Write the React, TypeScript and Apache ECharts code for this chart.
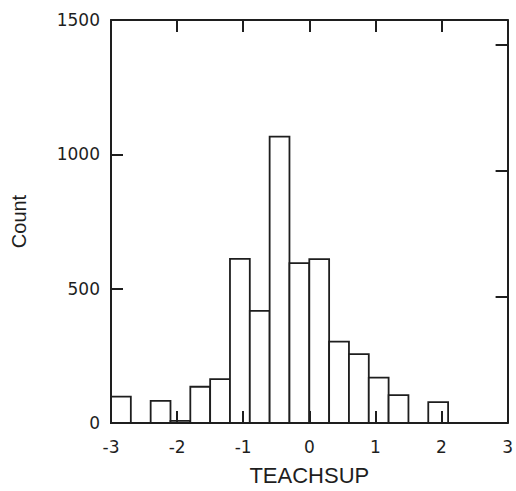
import React, { useEffect, useRef } from "react";
import * as echarts from "echarts";

// Histogram of TEACHSUP (bin width 0.3)
const binStarts = [-3, -2.7, -2.4, -2.1, -1.8, -1.5, -1.2, -0.9, -0.6, -0.3, 0, 0.3, 0.6, 0.9, 1.2, 1.5, 1.8];
const binEnds = [-2.7, -2.4, -2.1, -1.8, -1.5, -1.2, -0.9, -0.6, -0.3, 0, 0.3, 0.6, 0.9, 1.2, 1.5, 1.8, 2.1];
const counts = [98, 0, 82, 8, 135, 163, 611, 417, 1066, 595, 610, 303, 256, 169, 104, 0, 78];
const xTicks = [-3, -2, -1, 0, 1, 2, 3];
const yTicks = [0, 500, 1000, 1500];

const INK = "#1e1e1e";

export default function App() {
  const ref = useRef<HTMLDivElement>(null);
  useEffect(() => {
    if (!ref.current) return;
    const chart = echarts.init(ref.current, null, { renderer: "svg" });
    const total = counts.reduce((a, b) => a + b, 0);
    const yMax = yTicks[yTicks.length - 1];
    const data = binStarts
      .map((s, i) => [s, binEnds[i], counts[i]])
      .filter((d) => d[2] > 0);
    const tickLabelStyle = { color: INK, fontFamily: "DejaVu Sans", fontSize: 17 };
    const lineStyle = { color: INK, width: 2 };
    chart.setOption({
      animation: false,
      backgroundColor: "#ffffff",
      grid: { left: 111, right: 5, top: 20, bottom: 65 },
      xAxis: [
        {
          type: "value",
          position: "bottom",
          min: xTicks[0],
          max: xTicks[xTicks.length - 1],
          interval: 1,
          z: 10,
          name: "TEACHSUP",
          nameLocation: "middle",
          nameGap: 41,
          nameTextStyle: { color: INK, fontFamily: "Liberation Sans", fontSize: 22 },
          axisLine: { show: true, onZero: false, lineStyle },
          axisTick: { show: true, inside: true, length: 12, lineStyle },
          axisLabel: { ...tickLabelStyle, margin: 15, formatter: (v: number) => String(v) },
          splitLine: { show: false },
        },
        {
          type: "value",
          position: "top",
          min: xTicks[0],
          max: xTicks[xTicks.length - 1],
          interval: 1,
          z: 10,
          axisLine: { show: true, onZero: false, lineStyle },
          axisTick: { show: true, inside: true, length: 12, lineStyle },
          axisLabel: { show: false },
          splitLine: { show: false },
        },
      ],
      yAxis: [
        {
          type: "value",
          position: "left",
          min: 0,
          max: yMax,
          interval: 500,
          z: 10,
          name: "Count",
          nameLocation: "middle",
          nameGap: 82,
          nameRotate: 90,
          nameTextStyle: { color: INK, fontFamily: "Liberation Sans", fontSize: 20 },
          axisLine: { show: true, onZero: false, lineStyle },
          axisTick: { show: true, inside: true, length: 12, lineStyle },
          axisLabel: { ...tickLabelStyle, margin: 11, formatter: (v: number) => String(v) },
          splitLine: { show: false },
        },
        {
          type: "value",
          position: "right",
          min: 0,
          max: yMax / total,
          interval: 0.1,
          z: 10,
          axisLine: { show: true, onZero: false, lineStyle },
          axisTick: { show: true, inside: true, length: 12, lineStyle },
          axisLabel: { show: false },
          splitLine: { show: false },
        },
      ],
      series: [
        {
          type: "custom",
          xAxisIndex: 0,
          yAxisIndex: 0,
          data,
          encode: { x: [0, 1], y: 2 },
          renderItem: (_params: any, api: any) => {
            const p0 = api.coord([api.value(0), api.value(2)]);
            const p1 = api.coord([api.value(1), 0]);
            return {
              type: "rect",
              shape: { x: p0[0], y: p0[1], width: p1[0] - p0[0], height: p1[1] - p0[1] },
              style: { fill: "#ffffff", stroke: INK, lineWidth: 1.8 },
            };
          },
        },
      ],
    });
    return () => chart.dispose();
  }, []);
  return (
    <div
      ref={ref}
      style={{ position: "absolute", left: 0, top: 0, width: 516, height: 491 }}
    />
  );
}
